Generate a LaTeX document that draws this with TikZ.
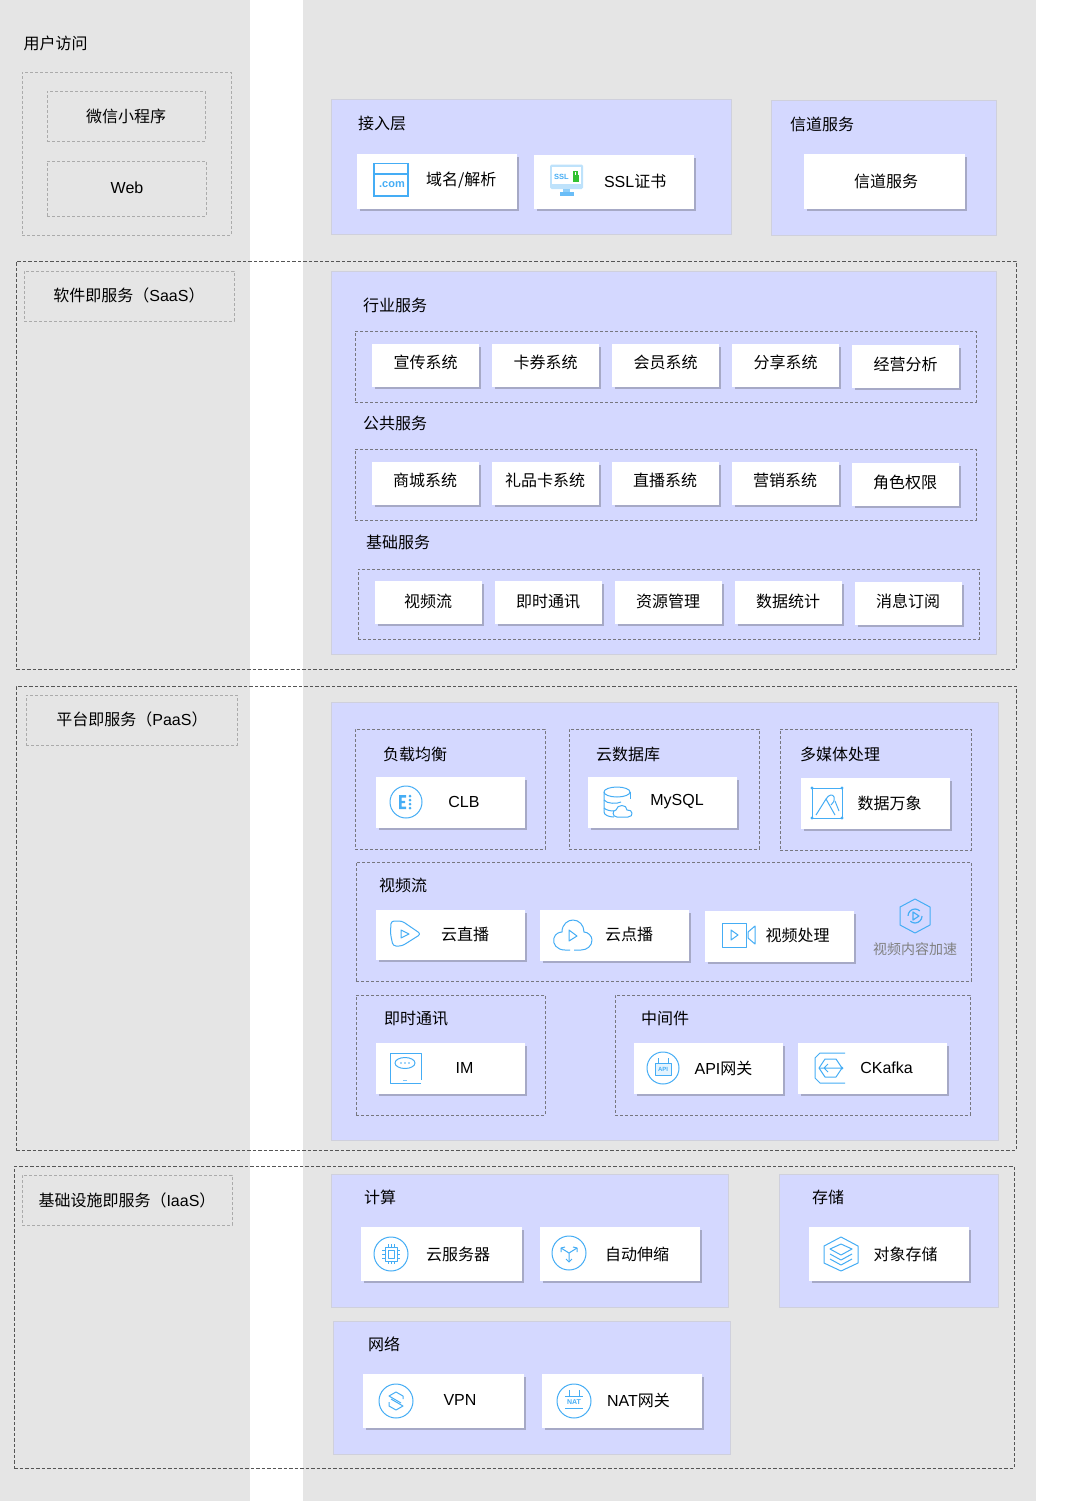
\documentclass[tikz,border=0pt]{standalone}
\usepackage{fontspec}
\setmainfont{Noto Sans CJK SC}
\newfontfamily\latfont{Liberation Sans}
\usetikzlibrary{shadows}
\definecolor{bggray}{HTML}{E5E5E5}
\definecolor{panelblue}{HTML}{D4D8FF}
\definecolor{panelline}{HTML}{CFD0DC}
\definecolor{shadowgray}{HTML}{A6A9C6}
\definecolor{dashgray}{HTML}{77777F}
\definecolor{lightdash}{HTML}{ABABAB}
\definecolor{outerdash}{HTML}{555555}
\definecolor{iconblue}{HTML}{45ADF5}

\begin{document}
\begin{tikzpicture}[x=1pt,y=-1pt,
  every node/.style={font=\fontsize{16}{18}\selectfont,inner sep=0pt,outer sep=0pt,text=black},
  panel/.style 2 args={rectangle,draw=panelline,fill=panelblue,line width=1pt,minimum width=#1pt,minimum height=#2pt},
  dashbox/.style 2 args={rectangle,draw=dashgray,dash pattern=on 3pt off 2pt,line width=0.9pt,minimum width=#1pt,minimum height=#2pt},
  lightbox/.style 2 args={dashbox={#1}{#2},draw=lightdash,line width=0.9pt},
  outerbox/.style 2 args={dashbox={#1}{#2},draw=outerdash,line width=0.7pt,dash pattern=on 3.5pt off 2pt},
  card/.style 2 args={rectangle,fill=white,draw=white,line width=0.5pt,minimum width=#1pt,minimum height=#2pt,
    general shadow={fill=shadowgray,shadow xshift=2.5pt,shadow yshift=-2.5pt}},
  lift/.style={text height=13.5pt,text depth=#1pt},
  lab/.style={anchor=west},
  icon/.style={draw=iconblue,line width=1pt,line join=round}]
  \useasboundingbox (0,0) rectangle (1070,1501);

  % background columns
  \fill[white] (0,0) rectangle (1070,1501);
  \fill[bggray] (0,0) rectangle (250,1501);
  \fill[bggray] (303,0) rectangle (1036,1501);

  % user access
  \node[lab] (usertitle) at (23.5,43) {用户访问};
  \node[lightbox={209}{163}] (userbox) at (126.5,153.5) {};
  \node[lightbox={158}{50}] (wechat) at (126,116) {微信小程序};
  \node[lightbox={159}{55}] (web) at (126.5,188.5) {};
  \node (webtext) at (127,187.5) {\latfont Web};

  % access layer
  \node[panel={400}{134}] (access) at (531,167) {};
  \node[lab] (accesstitle) at (358,123) {接入层};
  \node[card={159}{54}] (domain) at (436.5,181) {};
  \node[lab] (domaintext) at (426,180.5) {域名/解析};
  \node[card={159}{53}] (ssl) at (613.5,181.5) {};
  \node[lab] (ssltext) at (604,181) {\latfont SSL\rmfamily 证书};
  \node[panel={225}{134}] (channel) at (883.5,168) {};
  \node[lab] (channeltitle) at (790,124) {信道服务};
  \node[card={160}{54}] (channelcard) at (884,181) {};
  \node (channeltext) at (886,181) {信道服务};

  % saas
  \node[outerbox={1000}{408}] (saas) at (516,465) {};
  \node[lightbox={210}{50}] (saaslabel) at (129,296) {};
  \node (saastext) at (129,295) {软件即服务（{\latfont SaaS}）};
  \node[panel={665}{383}] (saaspanel) at (663.5,462.5) {};
  \node[lab] (industrytitle) at (363,305) {行业服务};
  \node[dashbox={621}{71}] (industry) at (665.5,366.5) {};
  \node[card={106}{42},lift=6.3] (promo) at (425.5,365) {宣传系统};
  \node[card={106}{42},lift=6.3] (coupon) at (545.5,365) {卡券系统};
  \node[card={106}{42},lift=6.3] (member) at (665.5,365) {会员系统};
  \node[card={106}{42},lift=6.3] (share) at (785.5,365) {分享系统};
  \node[card={106}{42},lift=4.3] (analysis) at (905.5,366) {经营分析};
  \node[lab] (publictitle) at (363,423) {公共服务};
  \node[dashbox={621}{71}] (public) at (665.5,484.5) {};
  \node[card={106}{42},lift=6.3] (mall) at (425,483) {商城系统};
  \node[card={106}{42},lift=6.3] (gift) at (545,483) {礼品卡系统};
  \node[card={106}{42},lift=6.3] (livesys) at (665,483) {直播系统};
  \node[card={106}{42},lift=6.3] (market) at (785,483) {营销系统};
  \node[card={106}{42},lift=4.3] (role) at (905,484) {角色权限};
  \node[lab] (basetitle) at (366,542) {基础服务};
  \node[dashbox={621}{70}] (base) at (668.5,604) {};
  \node[card={106}{42},lift=2.3] (stream) at (428,602) {视频流};
  \node[card={106}{42},lift=2.3] (instant) at (548,602) {即时通讯};
  \node[card={106}{42},lift=2.3] (resource) at (668,602) {资源管理};
  \node[card={106}{42},lift=2.3] (stats) at (788,602) {数据统计};
  \node[card={106}{42},lift=4.3] (subscribe) at (908,603) {消息订阅};

  % paas
  \node[outerbox={1000}{464}] (paas) at (516,918) {};
  \node[lightbox={211}{50}] (paaslabel) at (131.5,720) {};
  \node (paastext) at (132,719) {平台即服务（{\latfont PaaS}）};
  \node[panel={667}{438}] (paaspanel) at (664.5,921) {};
  \node[dashbox={190}{120}] (lbbox) at (450,789) {};
  \node[lab] (lbtitle) at (383,754) {负载均衡};
  \node[card={148}{50}] (clb) at (450,802) {};
  \node (clbtext) at (464,801.5) {\latfont CLB};
  \node[dashbox={190}{120}] (dbbox) at (664,789) {};
  \node[lab] (dbtitle) at (596,754) {云数据库};
  \node[card={148}{50}] (mysql) at (662,802) {};
  \node (mysqltext) at (677,802) {\latfont MySQL};
  \node[dashbox={191}{121}] (mediabox) at (875.5,789.5) {};
  \node[lab] (mediatitle) at (800,754) {多媒体处理};
  \node[card={148}{50}] (ci) at (875,803) {};
  \node (citext) at (889.5,803) {数据万象};
  \node[dashbox={615}{119}] (videobox) at (663.5,921.5) {};
  \node[lab] (videotitle) at (379,885) {视频流};
  \node[card={148}{49}] (liveplay) at (450,934.5) {};
  \node (liveplaytext) at (465,934) {云直播};
  \node[card={148}{50}] (vod) at (614,935) {};
  \node (vodtext) at (629,934) {云点播};
  \node[card={148}{50}] (vproc) at (779,936) {};
  \node (vproctext) at (797.5,935) {视频处理};
  \node[font=\fontsize{14}{16}\selectfont,text=gray] (cdntext) at (915,949.5) {视频内容加速};
  \node[dashbox={189}{120}] (imbox) at (450.5,1055) {};
  \node[lab] (imtitle) at (384,1019) {即时通讯};
  \node[card={148}{50}] (im) at (450,1068) {};
  \node (imtext) at (464.5,1068) {\latfont IM};
  \node[dashbox={355}{120}] (midbox) at (792.5,1055) {};
  \node[lab] (midtitle) at (641,1018) {中间件};
  \node[card={148}{50}] (apigw) at (708,1068) {};
  \node (apigwtext) at (723.5,1068) {{\latfont API}网关};
  \node[card={148}{50}] (ckafka) at (872,1068) {};
  \node (ckafkatext) at (886.5,1068) {\latfont CKafka};

  % iaas
  \node[outerbox={1000}{302}] (iaas) at (514,1317) {};
  \node[lightbox={210}{50}] (iaaslabel) at (127,1200) {};
  \node (iaastext) at (127,1200) {基础设施即服务（{\latfont IaaS}）};
  \node[panel={397}{133}] (compute) at (529.5,1240.5) {};
  \node[lab] (computetitle) at (364,1197) {计算};
  \node[card={160}{53}] (cvm) at (441,1253.5) {};
  \node (cvmtext) at (458,1254) {云服务器};
  \node[card={159}{53}] (scaling) at (619.5,1253.5) {};
  \node (scalingtext) at (637,1254) {自动伸缩};
  \node[panel={219}{133}] (storage) at (888.5,1240.5) {};
  \node[lab] (storagetitle) at (812,1197) {存储};
  \node[card={159}{53}] (cos) at (888.5,1253.5) {};
  \node (costext) at (905.5,1254) {对象存储};
  \node[panel={397}{133}] (network) at (531.5,1387.5) {};
  \node[lab] (networktitle) at (368,1344) {网络};
  \node[card={160}{53}] (vpn) at (443,1400.5) {};
  \node (vpntext) at (460,1400) {\latfont VPN};
  \node[card={159}{53}] (nat) at (621.5,1400.5) {};
  \node (nattext) at (638.5,1400) {{\latfont NAT}网关};

  % icons
  \begin{scope}[shift={(391,180)}]
    \draw[draw=iconblue,line width=1.6pt] (-17,-16.5) rectangle (17,16);
    \draw[draw=iconblue,line width=1.6pt] (-17,-6) -- (17,-6);
    \node[font=\fontsize{11}{11}\selectfont\bfseries\latfont,text=iconblue] (comtext) at (1,5) {.com};
  \end{scope}
  \begin{scope}[shift={(566.5,180)}]
    \fill[iconblue!35,rounded corners=1.5pt] (-16.5,-15.5) rectangle (16.5,9);
    \fill[white] (-14.5,-13.5) rectangle (14.5,4);
    \fill[iconblue!60] (-3.5,9) rectangle (3.5,12);
    \fill[iconblue!80] (-7,12) rectangle (7,15.5);
    \node[font=\fontsize{7.5}{8}\selectfont\bfseries\latfont,text=iconblue] (ssltag) at (-5,-3.5) {SSL};
    \fill[green!70!black!80] (6,-5) rectangle (12,1.5);
    \draw[green!70!black!80,line width=1.2pt] (7.5,-5) -- (7.5,-8.5) -- (10.5,-8.5) -- (10.5,-5);
  \end{scope}
  \begin{scope}[shift={(406,802)}]
    \draw[icon] (0,0) circle (16);
    \fill[iconblue] (-7,-7) rectangle (0,-4.5) (-7,-1.2) rectangle (-1,1.2) (-7,4.5) rectangle (0,7) (-7,-7) rectangle (-4.5,7);
    \foreach \dy in {-6,-2,2,6} \fill[iconblue] (4,\dy) circle (1.5);
  \end{scope}
  \begin{scope}[shift={(617,802)}]
    \draw[icon] (-13,-10) arc (180:-180:13 and 5);
    \draw[icon] (-13,-10) -- (-13,10) .. controls (-13,13) and (-8,15) .. (-3,15);
    \draw[icon] (13,-10) -- (13,-3);
    \draw[icon] (-13,-2) .. controls (-10,2) and (0,2) .. (4,0);
    \draw[icon] (-13,6) .. controls (-11,8) and (-7,9) .. (-3,9);
    \draw[icon,fill=white] (0,15) .. controls (-5,15) and (-5,8) .. (-1,8) .. controls (0,2) and (10,2) .. (10,8) .. controls (16,7) and (17,15) .. (11,15) -- cycle;
  \end{scope}
  \begin{scope}[shift={(827,803)}]
    \draw[icon] (-15,-15) rectangle (15,15);
    \foreach \ax/\ay in {-15/-15,15/-15,-15/15,15/15} \fill[iconblue] (\ax,\ay) circle (1.6);
    \draw[icon] (-11,12) -- (-1,-4) -- (8,12);
    \draw[icon] (-1,-4) .. controls (2,-9) and (6,-9) .. (7,-6) .. controls (8,-2) and (6,0) .. (4,2);
    \draw[icon] (8,-2) -- (12,8);
  \end{scope}
  \begin{scope}[shift={(406,934)}]
    \draw[icon,rounded corners=3pt] (-15,-13) -- (-4,-13) -- (15,0) -- (-4,12) -- (-13,12) -- (-15.5,0) -- cycle;
    \draw[icon] (-5,-4) -- (3,0) -- (-5,4) -- cycle;
  \end{scope}
  \begin{scope}[shift={(573,935)}]
    \draw[icon] (-3,15) -- (-8,15) .. controls (-16,15) and (-21,9) .. (-19,3) .. controls (-18,-1) and (-14,-3) .. (-11,-3) .. controls (-11,-11) and (-5,-15) .. (0,-15) .. controls (6,-15) and (11,-10) .. (11,-3) .. controls (15,-3) and (19,1) .. (19,5) .. controls (19,11) and (14,15) .. (8,15) -- (1,15);
    \draw[icon] (-4,-5) -- (4,1) -- (-4,6) -- cycle;
  \end{scope}
  \begin{scope}[shift={(734,935)}]
    \draw[icon] (-12,-12) rectangle (12,12);
    \draw[icon] (-3,-5) -- (4,0) -- (-3,5) -- cycle;
    \draw[icon] (21,-9) -- (14,-3) -- (14,3) -- (21,9) -- cycle;
  \end{scope}
  \begin{scope}[shift={(915,916)}]
    \draw[icon] (0,-17) -- (15,-9) -- (15,9) -- (0,17) -- (-15,9) -- (-15,-9) -- cycle;
    \draw[icon,dash pattern=on 16pt off 6pt,line width=1.2pt] (0,0) circle (7);
    \draw[icon,line width=1.2pt] (-2,-4) -- (4,0) -- (-2,4) -- cycle;
  \end{scope}
  \begin{scope}[shift={(405,1068)}]
    \draw[icon] (16,15) -- (-15,15) -- (-15,-15) -- (16,-15) -- (16,12);
    \draw[icon] (0,-5) ellipse (10 and 5.5);
    \foreach \dx in {-4,0,4} \fill[iconblue] (\dx,-5) circle (0.8);
    \fill[iconblue!70] (-2,11.5) rectangle (2,13);
  \end{scope}
  \begin{scope}[shift={(663,1068)}]
    \draw[icon] (0,0) circle (16);
    \draw[icon,fill=iconblue!15] (-8,-5) rectangle (8,7);
    \node[font=\fontsize{6}{6}\selectfont\bfseries\latfont,text=iconblue] (apitag) at (0,1) {API};
    \draw[icon] (-5,-5) -- (-5,-10) (5,-5) -- (5,-10);
  \end{scope}
  \begin{scope}[shift={(830,1068)}]
    \draw[icon] (15,-15) -- (-10,-15) -- (-15,-10) -- (-15,10) -- (-10,15) -- (15,15);
    \draw[icon] (-5,-9) -- (6,-9) -- (12,0) -- (6,9) -- (-5,9) -- (-11,0) -- cycle;
    \draw[icon] (-11,0) -- (12,0) (-2,-4) -- (-6,0) -- (-2,4);
    \fill[iconblue] (12,0) circle (1.5);
  \end{scope}
  \begin{scope}[shift={(391,1254)}]
    \draw[icon] (0,0) circle (17);
    \draw[icon] (-6,-7) rectangle (6,7);
    \draw[icon] (-3,-4) rectangle (3,4);
    \foreach \dy in {-4,0,4} \draw[icon] (-9,\dy) -- (-6,\dy) (6,\dy) -- (9,\dy);
    \foreach \dx in {-3,0,3} \draw[icon] (\dx,-10) -- (\dx,-7) (\dx,7) -- (\dx,10);
  \end{scope}
  \begin{scope}[shift={(569,1253)}]
    \draw[icon] (0,0) circle (17);
    \draw[icon] (0,0) -- (-8,-5) (0,0) -- (8,-5) (0,0) -- (0,9);
    \draw[icon] (-8,-1) -- (-8,-5) -- (-4,-6) (8,-1) -- (8,-5) -- (4,-6) (-3,6) -- (0,9) -- (3,6);
  \end{scope}
  \begin{scope}[shift={(841,1254)}]
    \draw[icon] (0,-17) -- (17,-8) -- (17,9) -- (0,17) -- (-17,9) -- (-17,-8) -- cycle;
    \draw[icon] (0,-10) -- (11,-5) -- (0,1) -- (-11,-5) -- cycle;
    \draw[icon] (-11,0) -- (0,6) -- (11,0);
    \draw[icon] (-11,5) -- (0,11) -- (11,5);
  \end{scope}
  \begin{scope}[shift={(396,1401)}]
    \draw[icon] (0,0) circle (17);
    \draw[icon] (7,-2) -- (7,-5) -- (0,-9) -- (-7,-5) -- (5,2);
    \draw[icon] (-7,1) -- (-7,5) -- (0,9) -- (7,5) -- (-5,-2);
  \end{scope}
  \begin{scope}[shift={(574,1401)}]
    \draw[icon] (0,0) circle (17);
    \draw[icon] (-5,-5) -- (-5,-11) (5,-5) -- (5,-11) (-9,-5) -- (9,-5) (-9,7) -- (9,7);
    \node[font=\fontsize{7}{7}\selectfont\bfseries\latfont,text=iconblue] (nattag) at (0,1) {NAT};
  \end{scope}
\end{tikzpicture}
\end{document}
